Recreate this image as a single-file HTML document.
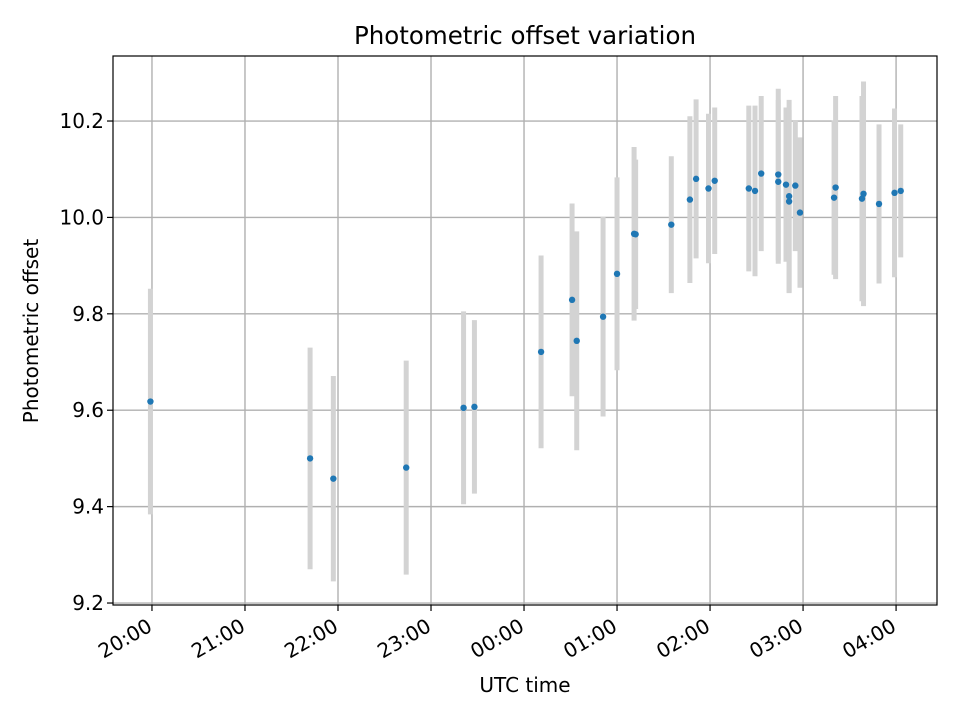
<!DOCTYPE html>
<html><head><meta charset="utf-8"><style>
html,body{margin:0;padding:0;background:#fff;}
svg{display:block;font-family:"DejaVu Sans","Liberation Sans",sans-serif;}
</style></head><body>
<svg id="chart" width="960" height="720" viewBox="0 0 960 720" xmlns="http://www.w3.org/2000/svg">
<rect x="0" y="0" width="960" height="720" fill="#fff"/>
<g id="grid"></g>
<g id="errs"></g>
<g id="pts"></g>
<rect x="113" y="56" width="824" height="549" fill="none" stroke="#000" stroke-width="1.2"/>
<g id="xt"></g>
<g id="yt"></g>
<text x="525" y="44" text-anchor="middle" font-size="24.5">Photometric offset variation</text>
<text x="525" y="692" text-anchor="middle" font-size="20">UTC time</text>
<text x="38" y="331" text-anchor="middle" font-size="20" transform="rotate(-90 38 331)">Photometric offset</text>
</svg>
<script>
const times = ["19:59","21:42","21:57","22:44","23:21","23:28","00:11","00:31","00:34","00:51","01:00","01:11","01:12","01:35","01:47","01:51","01:59","02:03","02:25","02:29","02:33","02:44","02:44","02:49","02:51","02:51","02:55","02:58","03:20","03:21","03:38","03:39","03:49","03:59","04:03"];
const offsets = [9.618,9.500,9.458,9.481,9.605,9.607,9.721,9.829,9.744,9.794,9.883,9.966,9.965,9.985,10.037,10.080,10.060,10.076,10.060,10.055,10.091,10.074,10.089,10.068,10.044,10.033,10.066,10.010,10.041,10.062,10.039,10.049,10.028,10.051,10.055];
const errors = [0.234,0.23,0.213,0.222,0.2,0.18,0.2,0.2,0.227,0.207,0.2,0.18,0.155,0.142,0.173,0.165,0.155,0.152,0.172,0.177,0.161,0.17,0.178,0.16,0.2,0.19,0.136,0.156,0.16,0.19,0.213,0.233,0.165,0.175,0.138];
const xTickLabels = ["20:00","21:00","22:00","23:00","00:00","01:00","02:00","03:00","04:00"];
const yTickValues = [9.2,9.4,9.6,9.8,10.0,10.2];

const NS="http://www.w3.org/2000/svg";
const X0=113,X1=937,Y0=56,Y1=605;
const hMin=-0.419,hMax=8.44,vMin=9.1959,vMax=10.3349;
function toHours(s){const [h,m]=s.split(":").map(Number);let v=h+m/60;if(v<12)v+=24;return v-20;}
function xs(h){return X0+(h-hMin)/(hMax-hMin)*(X1-X0);}
function ys(v){return Y1-(v-vMin)/(vMax-vMin)*(Y1-Y0);}
function mk(tag,attrs,parent){const e=document.createElementNS(NS,tag);for(const k in attrs)e.setAttribute(k,attrs[k]);parent.appendChild(e);return e;}
const grid=document.getElementById('grid'),errs=document.getElementById('errs'),pts=document.getElementById('pts'),xt=document.getElementById('xt'),yt=document.getElementById('yt');

xTickLabels.forEach(lbl=>{
  const x=xs(toHours(lbl));
  const g=mk('line',{x1:x,x2:x,y1:Y0,y2:Y1,stroke:'#b0b0b0','stroke-width':1.4},grid);
  
  
  const t=mk('line',{x1:x,x2:x,y1:Y1,y2:Y1+6,stroke:'#000','stroke-width':1.2},xt);
  
  
  const ax=x+1.5, ay=Y1+25;
  const tx=mk('text',{x:ax,y:ay,'text-anchor':'end','font-size':20,transform:`rotate(-30 ${ax} ${ay})`},xt);
  tx.textContent=lbl;
  
  
});
yTickValues.forEach(v=>{
  const y=ys(v);
  const g=mk('line',{x1:X0,x2:X1,y1:y,y2:y,stroke:'#b0b0b0','stroke-width':1.4},grid);
  
  
  const t=mk('line',{x1:X0-6,x2:X0,y1:y,y2:y,stroke:'#000','stroke-width':1.2},yt);
  
  
  const tx=mk('text',{x:X0-9,y:y+7,'text-anchor':'end','font-size':20},yt);
  tx.textContent=v.toFixed(1);
  
  
});
times.forEach((t,i)=>{
  const x=xs(toHours(t));
  const e=mk('line',{x1:x,x2:x,y1:ys(offsets[i]+errors[i]),y2:ys(offsets[i]-errors[i]),stroke:'#d3d3d3','stroke-width':5},errs);
  
  
  const c=mk('circle',{cx:x,cy:ys(offsets[i]),r:3.2,fill:'#1f77b4'},pts);
  
  
});
</script>
</body></html>
